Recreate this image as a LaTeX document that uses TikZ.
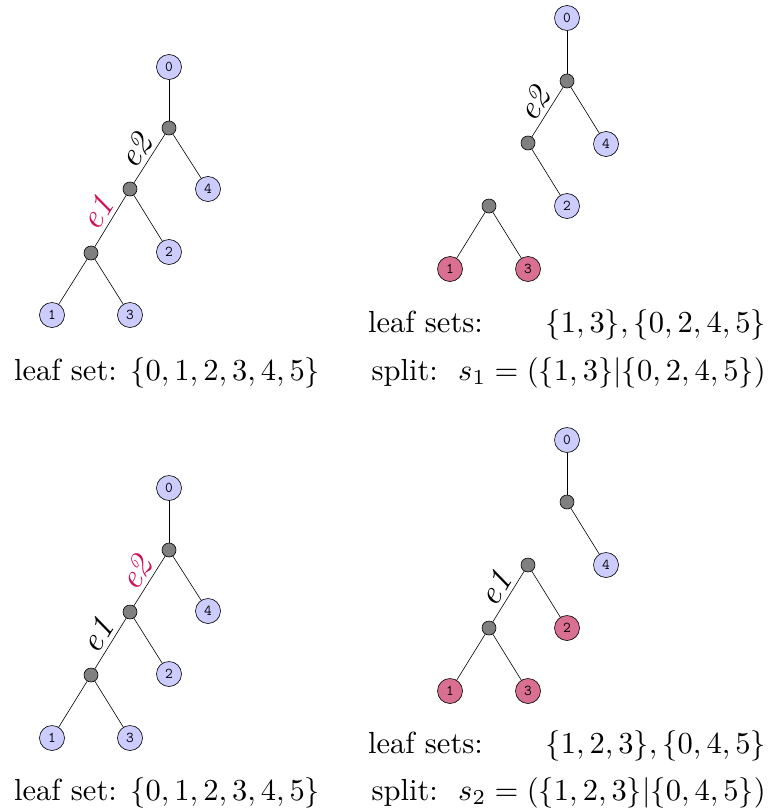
\documentclass[tikz,border=0pt]{standalone}
\usepackage{amsmath}
\newcommand{\bigtxt}[1]{\scalebox{3.05}{#1}}
\newcommand{\elabtxt}[1]{\scalebox{3.4}{\textit{#1}}}
\begin{document}
\begin{tikzpicture}[x=1pt,y=-1pt,
  leaf/.style={circle,draw,line width=0.6pt,fill=leafblue,minimum size=25pt,inner sep=0pt,font=\fontsize{15}{17}\selectfont\ttfamily},
  cut/.style={leaf,fill=leafpink},
  inner/.style={circle,draw,line width=0.6pt,fill=gray,minimum size=14pt,inner sep=0pt},
  edge/.style={line width=0.6pt},
  elab/.style={sloped,above,inner sep=4pt},
  caption/.style={inner sep=0pt}
]
\definecolor{leafblue}{RGB}{204,204,255}
\definecolor{leafpink}{RGB}{217,112,145}
\definecolor{emag}{RGB}{208,16,88}
\useasboundingbox (0,0) rectangle (771,811);

% ---------- top-left ----------
\node[leaf] (a0) at (169,67) {0};
\node[inner] (ar) at (169,128) {};
\node[leaf] (a4) at (208,189) {4};
\node[inner] (ab) at (130,189) {};
\node[leaf] (a2) at (169,252) {2};
\node[inner] (ac) at (91,253) {};
\node[leaf] (a1) at (52,315) {1};
\node[leaf] (a3) at (130,315) {3};
\draw[edge] (a0) -- (ar);
\draw[edge] (ar) -- (a4);
\draw[edge] (ar) -- node[elab]{\elabtxt{e2}} (ab);
\draw[edge] (ab) -- (a2);
\draw[edge] (ab) -- node[elab,text=emag]{\elabtxt{e1}} (ac);
\draw[edge] (ac) -- (a1);
\draw[edge] (ac) -- (a3);
\node[caption,anchor=base west] (ta) at (14,380) {\bigtxt{leaf set: $\{0,1,2,3,4,5\}$}};

% ---------- top-right ----------
\node[leaf] (b0) at (567,18) {0};
\node[inner] (br) at (567,81) {};
\node[leaf] (b4) at (606,144) {4};
\node[inner] (bb) at (528,143) {};
\node[leaf] (b2) at (567,206) {2};
\node[inner] (bc) at (489,206) {};
\node[cut] (b1) at (450,269) {1};
\node[cut] (b3) at (528,269) {3};
\draw[edge] (b0) -- (br);
\draw[edge] (br) -- (b4);
\draw[edge] (br) -- node[elab]{\elabtxt{e2}} (bb);
\draw[edge] (bb) -- (b2);
\draw[edge] (bc) -- (b1);
\draw[edge] (bc) -- (b3);
\node[caption,anchor=base west] (tb1) at (368,332) {\bigtxt{leaf sets:}};
\node[caption,anchor=base east] (tb2) at (766,332) {\bigtxt{$\{1,3\},\{0,2,4,5\}$}};
\node[caption,anchor=base east] (tb3) at (766,380) {\bigtxt{split:\ \ $s_1=(\{1,3\}|\{0,2,4,5\})$}};

% ---------- bottom-left ----------
\node[leaf] (c0) at (169,488) {0};
\node[inner] (cr) at (169,550) {};
\node[leaf] (c4) at (208,611) {4};
\node[inner] (cb) at (130,612) {};
\node[leaf] (c2) at (169,674) {2};
\node[inner] (cc) at (91,675) {};
\node[leaf] (c1) at (52,738) {1};
\node[leaf] (c3) at (130,738) {3};
\draw[edge] (c0) -- (cr);
\draw[edge] (cr) -- (c4);
\draw[edge] (cr) -- node[elab,text=emag]{\elabtxt{e2}} (cb);
\draw[edge] (cb) -- (c2);
\draw[edge] (cb) -- node[elab]{\elabtxt{e1}} (cc);
\draw[edge] (cc) -- (c1);
\draw[edge] (cc) -- (c3);
\node[caption,anchor=base west] (tc) at (14,800) {\bigtxt{leaf set: $\{0,1,2,3,4,5\}$}};

% ---------- bottom-right ----------
\node[leaf] (d0) at (567,440) {0};
\node[inner] (dr) at (567,502) {};
\node[leaf] (d4) at (606,565) {4};
\node[inner] (db) at (528,565) {};
\node[cut] (d2) at (567,628) {2};
\node[inner] (dc) at (489,628) {};
\node[cut] (d1) at (450,691) {1};
\node[cut] (d3) at (528,691) {3};
\draw[edge] (d0) -- (dr);
\draw[edge] (dr) -- (d4);
\draw[edge] (db) -- (d2);
\draw[edge] (db) -- node[elab]{\elabtxt{e1}} (dc);
\draw[edge] (dc) -- (d1);
\draw[edge] (dc) -- (d3);
\node[caption,anchor=base west] (td1) at (368,753) {\bigtxt{leaf sets:}};
\node[caption,anchor=base east] (td2) at (766,753) {\bigtxt{$\{1,2,3\},\{0,4,5\}$}};
\node[caption,anchor=base east] (td3) at (766,800) {\bigtxt{split:\ \ $s_2=(\{1,2,3\}|\{0,4,5\})$}};
\end{tikzpicture}
\end{document}
